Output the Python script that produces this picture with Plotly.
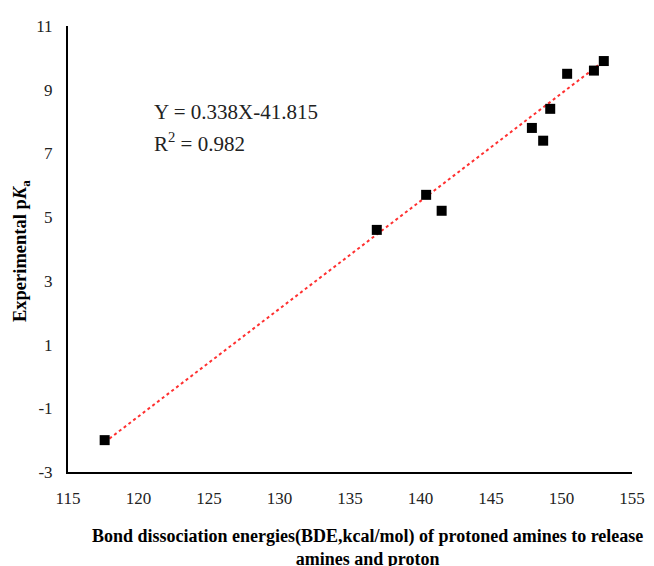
import plotly.graph_objects as go

bde = [117.6, 136.9, 140.4, 141.5, 147.9, 148.7, 149.2, 150.4, 152.3, 153.0]
pka = [-2.0, 4.6, 5.7, 5.2, 7.8, 7.4, 8.4, 9.5, 9.6, 9.9]
slope = 0.338
intercept = -41.815
x_ticks = [115, 120, 125, 130, 135, 140, 145, 150, 155]
y_ticks = [-3, -1, 1, 3, 5, 7, 9, 11]
y_tick_labels = ["-3", "-1", "1", "3", "5", "7", "9", "11"]

fit_x = [min(bde), max(bde)]
fit_y = [slope * v + intercept for v in fit_x]

font = "Liberation Serif, Times New Roman, serif"

fig = go.Figure()
fig.add_trace(go.Scatter(x=fit_x, y=fit_y, mode="lines",
                         line=dict(color="#ff3030", width=2, dash="dot"),
                         showlegend=False, hoverinfo="skip"))
fig.add_trace(go.Scatter(x=bde, y=pka, mode="markers",
                         marker=dict(symbol="square", size=10, color="black"),
                         showlegend=False))

fig.add_annotation(x=0.149, y=0.807, xref="paper", yref="paper", xanchor="left", yanchor="middle",
                   text="Y = 0.338X-41.815", showarrow=False,
                   font=dict(family=font, size=21, color="#222"))
fig.add_annotation(x=0.149, y=0.738, xref="paper", yref="paper", xanchor="left", yanchor="middle",
                   text="R<sup>2</sup> = 0.982", showarrow=False,
                   font=dict(family=font, size=21, color="#222"))

# axis titles
fig.add_annotation(x=0.531, y=-0.169, xref="paper", yref="paper", xanchor="center", yanchor="middle",
                   text="<b>Bond dissociation energies(BDE,kcal/mol) of protoned amines to release<br>amines and proton</b>",
                   showarrow=False, font=dict(family=font, size=18, color="black"))
fig.add_annotation(x=-0.0833, y=0.4955, xref="paper", yref="paper", xanchor="center", yanchor="middle",
                   textangle=-90, text="<b>Experimental p<i>K</i><sub>a</sub></b>",
                   showarrow=False, font=dict(family=font, size=18.5, color="black"))

fig.update_layout(
    width=646, height=558,
    margin=dict(l=60, r=22, t=18, b=94),
    plot_bgcolor="white", paper_bgcolor="white",
    font=dict(family=font, size=16, color="#222"),
    xaxis=dict(range=[115, 155], tickvals=x_ticks, showgrid=False, zeroline=False,
               showline=True, linecolor="black", linewidth=2, ticks="", automargin=False,
               ticklabelstandoff=10, tickfont=dict(size=17)),
    yaxis=dict(range=[-3, 11], tickvals=y_ticks, ticktext=y_tick_labels, showgrid=False, zeroline=False,
               showline=True, linecolor="black", linewidth=2, ticks="", automargin=False,
               ticklabelstandoff=10, tickfont=dict(size=17)),
)

fig.write_html("out.html")
